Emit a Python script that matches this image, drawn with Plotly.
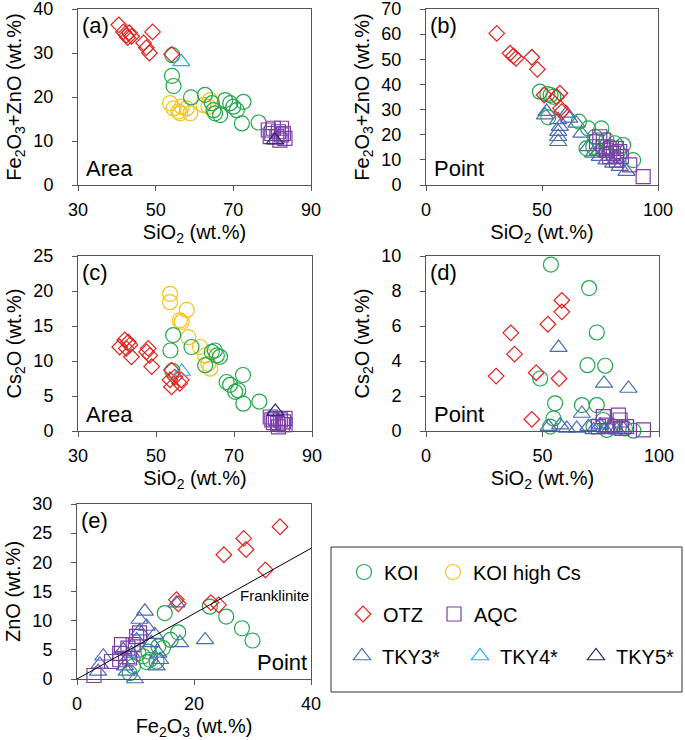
import plotly.graph_objects as go

# ---------------- data ----------------
# (a) Area: SiO2 vs Fe2O3+ZnO
koi_a_x = [54.3, 54.2, 54.6, 59.1, 62.7, 64.5, 64.9, 65.3, 66.6, 67.9, 69.2, 70.0, 70.9, 72.6, 72.2, 76.5]
koi_a_y = [29.5, 24.8, 22.5, 19.9, 20.5, 18.6, 17.0, 16.3, 15.9, 19.3, 18.6, 17.8, 17.0, 18.9, 14.0, 14.2]
koihc_a_x = [53.7, 54.6, 55.9, 56.7, 58.0, 58.9, 56.3, 62.3, 64.0, 63.6]
koihc_a_y = [18.6, 17.4, 16.7, 17.8, 17.4, 16.3, 16.3, 18.2, 19.3, 17.8]
otz_a_x = [40.5, 41.7, 42.5, 43.2, 43.8, 42.8, 49.2, 46.9, 47.6, 48.4, 54.1]
otz_a_y = [36.4, 34.8, 34.0, 34.6, 33.8, 33.5, 34.8, 32.3, 31.2, 30.0, 29.7]
aqc_a_x = [79.0, 80.3, 81.6, 82.4, 82.9, 81.2, 79.9, 83.3, 82.0, 79.5, 82.4]
aqc_a_y = [12.5, 12.9, 12.1, 12.9, 11.7, 11.0, 11.7, 10.6, 10.2, 11.0, 11.4]
tky4_a_x = [56.6]
tky4_a_y = [28.0]
tky5_a_x = [80.7]
tky5_a_y = [10.2]

# (b) Point: SiO2 vs Fe2O3+ZnO
koi_b_x = [49.1, 52.3, 53.7, 54.9, 52.7, 65.9, 69.9, 75.6, 72.8, 69.2, 77.8, 79.2, 81.4, 85.0, 82.8, 89.3, 72.1]
koi_b_y = [37.1, 36.2, 35.8, 35.1, 26.9, 25.2, 22.5, 22.5, 19.2, 14.6, 17.9, 15.2, 16.6, 15.9, 13.3, 9.9, 15.2]
otz_b_x = [30.5, 36.2, 37.7, 38.8, 45.6, 48.0, 50.9, 57.7, 56.3, 58.0, 58.5]
otz_b_y = [60.3, 52.4, 51.3, 50.4, 50.8, 46.0, 35.8, 36.5, 35.1, 30.5, 29.2]
aqc_b_x = [74.9, 76.4, 73.5, 76.4, 77.8, 79.9, 82.1, 83.5, 80.7, 84.2, 82.1, 87.8, 93.6, 79.2]
aqc_b_y = [19.2, 17.9, 17.2, 15.2, 13.9, 14.6, 14.6, 13.3, 12.6, 11.3, 9.9, 8.0, 3.3, 11.3]
tky3_b_x = [52.0, 51.3, 57.0, 57.7, 57.0, 57.0, 57.0, 60.6, 61.7, 64.9, 67.0, 69.9, 72.1, 74.9,
            77.8, 80.7, 83.5, 86.4, 74.2, 77.8, 82.1]
tky3_b_y = [29.2, 27.8, 25.9, 23.2, 21.2, 19.2, 17.2, 28.5, 26.5, 24.5, 20.5, 15.2, 12.6, 11.3,
            9.9, 8.6, 7.3, 5.3, 13.3, 12.6, 10.6]

# (c) Area: SiO2 vs Cs2O
koi_c_x = [54.4, 53.7, 59.1, 64.3, 65.1, 65.6, 66.4, 62.6, 68.1, 69.0, 70.3, 71.1, 72.3, 72.4, 76.5, 54.2]
koi_c_y = [13.7, 11.5, 12.0, 11.3, 11.5, 10.8, 10.6, 9.4, 7.0, 6.6, 5.6, 5.8, 8.0, 3.9, 4.2, 8.6]
koihc_c_x = [53.6, 53.6, 57.9, 56.1, 56.6, 58.3, 61.3, 62.6, 63.4, 63.9]
koihc_c_y = [19.6, 18.4, 17.3, 15.8, 15.6, 13.4, 12.0, 10.8, 9.6, 8.9]
otz_c_x = [40.7, 42.0, 42.9, 43.3, 42.4, 43.7, 47.6, 48.0, 48.4, 48.9, 54.0, 53.6, 54.0, 56.1, 56.5, 54.8]
otz_c_y = [12.0, 13.0, 12.7, 12.3, 11.8, 10.6, 11.3, 11.8, 10.8, 9.2, 8.7, 7.3, 6.3, 6.8, 7.3, 7.7]
aqc_c_x = [79.3, 80.6, 81.9, 82.7, 83.1, 81.2, 82.4, 80.1, 81.4, 83.1, 79.7]
aqc_c_y = [2.0, 1.8, 1.6, 1.3, 1.8, 1.1, 0.9, 1.2, 0.6, 0.9, 1.6]
tky4_c_x = [56.6]
tky4_c_y = [8.5]
tky5_c_x = [80.6]
tky5_c_y = [2.8]

# (d) Point: SiO2 vs Cs2O
koi_d_x = [53.6, 70.0, 73.3, 69.3, 76.9, 49.0, 55.4, 66.9, 73.3, 54.7, 53.3, 76.1, 80.4, 85.4, 89.0, 71.9, 77.6]
koi_d_y = [9.51, 8.17, 5.63, 3.76, 3.73, 3.00, 1.58, 1.48, 1.48, 0.72, 0.25, 0.63, 0.25, 0.15, 0.02, 0.25, 0.06]
otz_d_x = [30.1, 36.4, 38.0, 47.3, 45.4, 52.3, 58.3, 58.3, 57.1]
otz_d_y = [3.14, 5.61, 4.39, 3.33, 0.67, 6.10, 7.47, 6.81, 3.00]
aqc_d_x = [76.1, 82.6, 83.3, 77.6, 81.1, 74.0, 84.0, 93.3, 86.1]
aqc_d_y = [0.82, 0.91, 0.63, 0.34, 0.25, 0.25, 0.15, 0.06, 0.25]
tky3_d_x = [56.9, 76.4, 86.9, 66.9, 52.6, 57.6, 60.4, 64.7, 69.7, 71.9, 74.7, 79.0, 81.9, 84.7, 76.9]
tky3_d_y = [4.77, 2.72, 2.43, 1.00, 0.25, 0.34, 0.15, 0.15, 0.25, 0.06, 0.34, 0.15, 0.06, 0.10, 0.06]

# (e) Point: Fe2O3 vs ZnO
koi_e_x = [15.0, 22.7, 25.5, 28.2, 30.0, 17.3, 16.0, 14.7, 13.9, 12.2, 11.3, 10.5, 12.5, 11.9, 9.6, 9.0, 13.6]
koi_e_y = [11.3, 12.4, 10.7, 8.7, 6.6, 8.0, 6.7, 5.3, 5.6, 4.7, 3.9, 4.4, 3.3, 2.9, 2.2, 1.0, 3.0]
otz_e_x = [34.7, 28.5, 28.9, 25.1, 32.2, 17.0, 17.3, 22.9, 24.2]
otz_e_y = [26.1, 24.1, 22.2, 21.3, 18.7, 13.6, 12.9, 13.1, 12.7]
aqc_e_x = [2.9, 5.9, 7.3, 7.6, 9.0, 8.7, 10.2, 10.7, 7.3, 9.6]
aqc_e_y = [0.6, 3.0, 4.4, 5.9, 3.6, 5.3, 7.3, 7.9, 3.3, 5.9]
tky3_e_x = [11.6, 10.7, 11.9, 10.7, 13.3, 17.6, 21.9, 17.0, 4.5, 3.9, 3.6, 7.9, 8.5, 8.2, 8.5, 9.9,
            13.6, 14.2, 10.2, 9.3, 13.9, 12.7]
tky3_e_y = [11.6, 10.2, 9.0, 8.2, 7.6, 6.2, 6.7, 13.0, 3.9, 2.5, 1.3, 5.0, 3.3, 2.2, 1.3, 0.0,
            2.2, 3.3, 6.7, 4.4, 4.4, 6.2]
franklinite_x = [0, 40]
franklinite_y = [0, 22.4]

# ---------------- styles ----------------
FONT = "Liberation Sans, Arial, sans-serif"
W, H = 685, 740
# each legend entry gets its own small legend box: (symbol centre x, row centre y) in px
groups = {
    "KOI": dict(color="#21a84a", symbol="circle-open", size=15, legend="legend", pos=(358, 572)),
    "KOI high Cs": dict(color="#f5c21b", symbol="circle-open", size=15, legend="legend2", pos=(447, 572)),
    "OTZ": dict(color="#e3211c", symbol="diamond-open", size=12, legend="legend3", pos=(357, 614)),
    "AQC": dict(color="#7b3fa8", symbol="square-open", size=14, legend="legend4", pos=(448, 614)),
    "TKY3*": dict(color="#4a6cb4", symbol="triangle-up-open", size=15, legend="legend5", pos=(356, 656)),
    "TKY4*": dict(color="#22aee6", symbol="triangle-up-open", size=15, legend="legend6", pos=(474, 656)),
    "TKY5*": dict(color="#1c2a66", symbol="triangle-up-open", size=15, legend="legend7", pos=(590, 656)),
}

fig = go.Figure()
shown = set()


def add(n, name, x, y):
    g = groups[name]
    sfx = "" if n == 1 else str(n)
    fig.add_trace(go.Scatter(
        x=x, y=y, mode="markers", name=name, legendgroup=name,
        showlegend=name not in shown, legend=g["legend"],
        xaxis="x" + sfx, yaxis="y" + sfx, cliponaxis=False,
        marker=dict(symbol=g["symbol"], size=g["size"], color=g["color"], line=dict(width=1.2))))
    shown.add(name)


add(1, "KOI high Cs", koihc_a_x, koihc_a_y)
add(1, "KOI", koi_a_x, koi_a_y)
add(1, "OTZ", otz_a_x, otz_a_y)
add(1, "AQC", aqc_a_x, aqc_a_y)
add(1, "TKY4*", tky4_a_x, tky4_a_y)
add(1, "TKY5*", tky5_a_x, tky5_a_y)

add(2, "TKY3*", tky3_b_x, tky3_b_y)
add(2, "KOI", koi_b_x, koi_b_y)
add(2, "OTZ", otz_b_x, otz_b_y)
add(2, "AQC", aqc_b_x, aqc_b_y)

add(3, "KOI high Cs", koihc_c_x, koihc_c_y)
add(3, "KOI", koi_c_x, koi_c_y)
add(3, "OTZ", otz_c_x, otz_c_y)
add(3, "AQC", aqc_c_x, aqc_c_y)
add(3, "TKY4*", tky4_c_x, tky4_c_y)
add(3, "TKY5*", tky5_c_x, tky5_c_y)

add(4, "KOI", koi_d_x, koi_d_y)
add(4, "OTZ", otz_d_x, otz_d_y)
add(4, "TKY3*", tky3_d_x, tky3_d_y)
add(4, "AQC", aqc_d_x, aqc_d_y)

add(5, "KOI", koi_e_x, koi_e_y)
add(5, "OTZ", otz_e_x, otz_e_y)
add(5, "TKY3*", tky3_e_x, tky3_e_y)
add(5, "AQC", aqc_e_x, aqc_e_y)
fig.add_trace(go.Scatter(x=franklinite_x, y=franklinite_y, mode="lines", xaxis="x5", yaxis="y5",
                         line=dict(color="black", width=1), showlegend=False, hoverinfo="skip"))


def xdom(l, r):
    return [l / W, r / W]


def ydom(t, b):
    return [1 - b / H, 1 - t / H]


panels = [
    # domain x (px), domain y (px), x range, x tick0, x dtick, y range, y dtick, x title, y title, label, kind, kind side
    ((78, 311), (9, 185), [30, 90], 30, 20, [0, 40], 10, "SiO<sub>2</sub> (wt.%)", "Fe<sub>2</sub>O<sub>3</sub>+ZnO (wt.%)", "(a)", "Area", "left"),
    ((426, 658), (9, 185), [0, 100], 0, 50, [0, 70], 10, "SiO<sub>2</sub> (wt.%)", "Fe<sub>2</sub>O<sub>3</sub>+ZnO (wt.%)", "(b)", "Point", "left"),
    ((78, 312), (256, 431), [30, 90], 30, 20, [0, 25], 5, "SiO<sub>2</sub> (wt.%)", "Cs<sub>2</sub>O (wt.%)", "(c)", "Area", "left"),
    ((426, 659), (256, 431), [0, 100], 0, 50, [0, 10], 2, "SiO<sub>2</sub> (wt.%)", "Cs<sub>2</sub>O (wt.%)", "(d)", "Point", "left"),
    ((77, 311), (504, 679), [0, 40], 0, 20, [0, 30], 5, "Fe<sub>2</sub>O<sub>3</sub> (wt.%)", "ZnO (wt.%)", "(e)", "Point", "right"),
]

axis_common = dict(showline=True, linecolor="#555", linewidth=1, mirror=True, ticks="outside",
                   ticklen=5, tickcolor="#555", showgrid=False, zeroline=False, automargin=False,
                   ticklabeloverflow="allow",
                   tickfont=dict(family=FONT, size=18, color="black"))
annotations = []
for i, (dx, dy, xr, x0, xd, yr, yd, xt, yt, lab, kind, kpos) in enumerate(panels, start=1):
    sfx = "" if i == 1 else str(i)
    fig.layout["xaxis" + sfx] = dict(axis_common, domain=xdom(*dx), range=xr, tick0=x0, dtick=xd,
                                     anchor="y" + sfx, ticklabelstandoff=3,
                                     title=dict(text=xt, font=dict(family=FONT, size=20, color="black"), standoff=6))
    fig.layout["yaxis" + sfx] = dict(axis_common, domain=ydom(*dy), range=yr, dtick=yd, anchor="x" + sfx,
                                     ticklabelstandoff=15,
                                     title=dict(text=yt, font=dict(family=FONT, size=20, color="black"), standoff=6))
    annotations.append(dict(text=lab, xref="x%s domain" % sfx, yref="y%s domain" % sfx, x=0.01, y=0.99,
                            xanchor="left", yanchor="top", showarrow=False,
                            font=dict(family=FONT, size=22, color="black")))
    annotations.append(dict(text=kind, xref="x%s domain" % sfx, yref="y%s domain" % sfx,
                            x=0.025 if kpos == "left" else 0.99, y=0.01,
                            xanchor=kpos, yanchor="bottom", showarrow=False,
                            font=dict(family=FONT, size=22, color="black")))

annotations.append(dict(text="Franklinite", xref="x5", yref="y5", x=40, y=14.3, xanchor="right",
                        yanchor="middle", showarrow=False, font=dict(family=FONT, size=15, color="black")))

legends = {}
for name, g in groups.items():
    cx, cy = g["pos"]
    legends[g["legend"]] = dict(orientation="h", bgcolor="rgba(0,0,0,0)", borderwidth=0,
                                x=(cx - 14) / W, y=1 - cy / H, xanchor="left", yanchor="middle",
                                font=dict(family=FONT, size=20, color="black"),
                                itemclick=False, itemdoubleclick=False)

fig.update_layout(
    width=W, height=H, margin=dict(l=0, r=0, t=0, b=0),
    paper_bgcolor="white", plot_bgcolor="white",
    font=dict(family=FONT, color="black"),
    annotations=annotations,
    shapes=[dict(type="rect", xref="paper", yref="paper", x0=331 / W, x1=682 / W,
                 y0=1 - 692 / H, y1=1 - 547 / H, line=dict(color="#333", width=1))],
    **legends,
)

# the browser's default 8px body margin would shift the whole figure
fig.write_html("out.html", config={"displayModeBar": False},
               post_script="document.body.style.margin='0';")
